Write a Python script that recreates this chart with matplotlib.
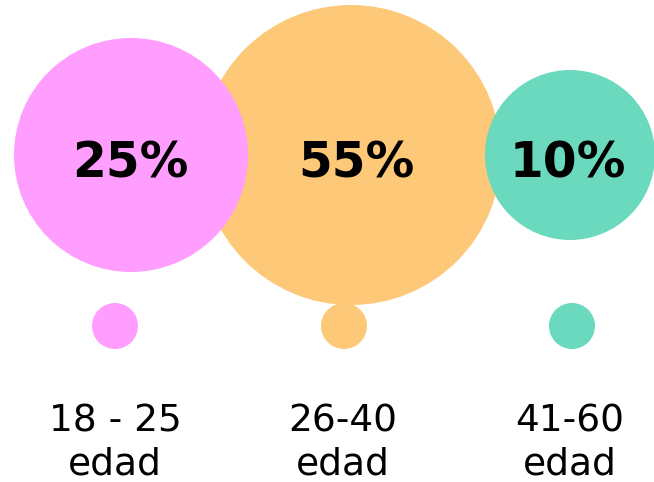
import matplotlib.pyplot as plt
from matplotlib.patches import Circle

# data
percentages = [25, 55, 10]
age_groups = ['18 - 25', '26-40', '41-60']
colors = ['#FF9EFF', '#FDC878', '#6AD9BE']

# layout (pixel coords)
big_x = [131, 351, 570]
big_r = [117, 150, 85]
pct_x = [130, 356, 568]
dot_x = [115, 344, 572]
label_x = [115, 343, 570]
center_y = 155
dot_y = 326
dot_r = 23

fig = plt.figure(figsize=(6.54, 4.82), dpi=100)
ax = fig.add_axes([0, 0, 1, 1])
ax.set_xlim(0, 654)
ax.set_ylim(482, 0)
ax.set_aspect('equal')
ax.axis('off')

# orange (biggest) drawn first so the others overlap it
order = [1, 0, 2]
for i in order:
    ax.add_patch(Circle((big_x[i], center_y), big_r[i], color=colors[i], lw=0, zorder=1))

for i, p in enumerate(percentages):
    ax.text(pct_x[i], 177, f'{p}%', ha='center', va='baseline',
            fontsize=35, fontweight='bold', color='black', zorder=3)
    ax.add_patch(Circle((dot_x[i], dot_y), dot_r, color=colors[i], lw=0, zorder=2))
    ax.text(label_x[i], 443, f'{age_groups[i]}\nedad', ha='center', va='center',
            fontsize=27, color='black', linespacing=1.25)

fig.savefig('out.png', dpi=100)
